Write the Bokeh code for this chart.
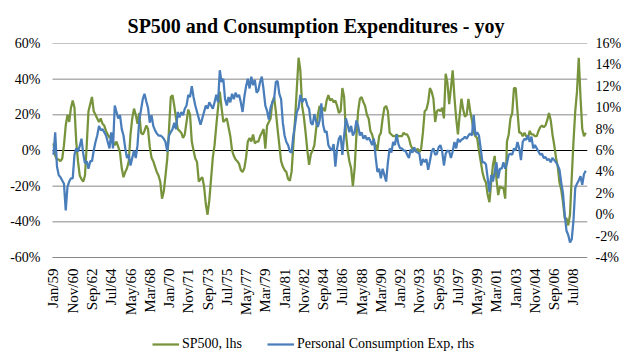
import math
from bokeh.plotting import figure
from bokeh.models import (Range1d, LinearAxis, FixedTicker, PrintfTickFormatter,
                          Legend, LegendItem)
from bokeh.core.properties import value
from bokeh.embed import file_html
from bokeh.resources import INLINE

title_text = "SP500 and Consumption Expenditures - yoy"
series_names = ["SP500, lhs", "Personal Consumption Exp, rhs"]

# month index from Jan 1959 (0), sampled every 2 months
months = list(range(0, 609, 2))

# x-axis category labels every 22 months
tick_months = [0, 22, 44, 66, 88, 110, 132, 154, 176, 198, 220, 242, 264, 286,
               308, 330, 352, 374, 396, 418, 440, 462, 484, 506, 528, 550, 572, 594]
tick_labels = ["Jan/59", "Nov/60", "Sep/62", "Jul/64", "May/66", "Mar/68", "Jan/70",
               "Nov/71", "Sep/73", "Jul/75", "May/77", "Mar/79", "Jan/81", "Nov/82",
               "Sep/84", "Jul/86", "May/88", "Mar/90", "Jan/92", "Nov/93", "Sep/95",
               "Jul/97", "May/99", "Mar/01", "Jan/03", "Nov/04", "Sep/06", "Jul/08"]

left_ticks = [-60, -40, -20, 0, 20, 40, 60]
right_ticks = [-4, -2, 0, 2, 4, 6, 8, 10, 12, 14, 16]

# SP500 yoy %, left axis
sp500 = [
    4, -3, -5, -5, -6, -4.5, 3, 14, 20, 16, 24, 28,
    24, 5, -6, -14, -16, -17.5, -14, 3, 22, 26, 30, 22,
    20, 18, 16, 18, 15, 14, 11, 9, 7, 9, 5, 3,
    5, 2, -1, -10, -15, -12, -10, -6, 9, 18, 23.5, 20,
    15, 21, 10, 9, 11, 14, 12, 2, -4, -6, -9, -12,
    -14, -17.5, -27, -23, -14, -4.5, 12, 30, 31, 25, 18, 12,
    11, 10, 7, 9, 16, 23, 20, 5, 0, -4.5, -6.5, -17.5,
    -16, -15, -20, -30, -36, -28, -16, -4, 3, 14, 24, 33,
    24, 16, 17, 18, 13, 8, 0, -3, -5, -6, -7.5, -11,
    -12, -10, -4, 5, 7, 5, 9, 4, 5, 5, 8, 10,
    12, 1, 14, 16, 18, 27, 30, 22, 12, 3, -6, -9,
    -11, -12, -16, -17, -12, 3, 18, 35, 52, 45, 25, 19,
    10, 0, -8, -2, 0, 3, 12, 20, 25, 22, 24, 22,
    28, 31, 28, 29, 27, 28, 25, 21, 22, 35, 30, 10,
    0, -6, -10, -20, -10, 8, 22, 29, 30, 27, 25, 20,
    18, 11, 9, 5, 3, 0, 8, 10, 18, 24, 25, 22,
    10, 9, 8, 8, 9, 8, 8, 8, 10, 9, 9, 7,
    3, 1, 0, 0, 1, -1, 1, 10, 22, 23, 27, 35,
    33, 29, 16, 22, 23, 22, 24, 18, 43, 38, 26, 35,
    45, 30, 18, 9, 20, 29, 23, 19, 20, 29, 22, 17,
    10, 8, 7, 0, -6, -12, -16, -18, -25, -29, -18, -8,
    -3, -16, -25, -20, -21, -21, -27, 5, 9, 18, 21, 35,
    35, 22, 10, 10, 8, 10, 8, 7, 11, 9, 9, 8,
    8, 11, 13, 14, 13, 14, 17, 21, 17, 9, 3, -4,
    -9, -18, -22, -29, -38, -38, -42, -36, -15, 5, 22, 33,
    52, 30, 12, 8, 10,
]

# Personal consumption expenditures yoy %, right axis
pce = [
    5.6, 7.7, 4.5, 3.7, 3.5, 3.2, 2.9, 0.4, 2.6, 3.1, 3.4, 3.4,
    5.6, 6.2, 5.9, 6.4, 7.1, 5.7, 4.8, 5.0, 4.3, 5.0, 5.0, 6.0,
    6.8, 7.4, 8.3, 7.9, 8.0, 7.7, 7.4, 6.8, 6.2, 7.7, 6.2, 10.2,
    9.6, 9.0, 9.3, 8.0, 7.4, 6.2, 5.3, 5.6, 4.6, 5.3, 6.0, 5.3,
    6.5, 8.8, 9.8, 10.8, 11.3, 10.6, 10.0, 8.6, 9.3, 8.3, 7.9, 7.6,
    7.4, 7.4, 7.3, 7.1, 6.8, 5.9, 7.4, 7.7, 8.0, 8.6, 8.0, 9.6,
    9.1, 9.6, 9.3, 9.9, 10.2, 11.2, 11.0, 12.0, 11.0, 10.2, 9.6, 9.0,
    8.4, 9.0, 9.6, 10.2, 9.9, 10.5, 10.2, 9.9, 10.5, 11.2, 10.5, 13.5,
    12.4, 12.7, 10.8, 10.2, 11.0, 10.5, 11.3, 10.8, 11.4, 11.0, 11.2, 10.5,
    9.6, 11.0, 12.0, 12.7, 11.8, 12.9, 12.1, 12.6, 11.4, 11.6, 12.4, 12.9,
    11.7, 10.2, 9.7, 8.9, 10.0, 10.5, 10.8, 12.4, 12.5, 11.3, 10.8, 8.6,
    7.4, 6.8, 6.5, 5.9, 5.8, 7.4, 8.4, 9.6, 10.0, 11.2, 10.5, 10.8,
    10.8, 10.2, 9.9, 8.6, 8.4, 9.4, 8.7, 8.2, 8.8, 10.4, 8.4, 7.7,
    7.8, 6.5, 6.2, 6.0, 6.6, 4.5, 6.2, 7.1, 7.4, 5.6, 7.4, 9.0,
    8.4, 7.7, 8.3, 7.4, 7.7, 8.8, 8.3, 7.4, 7.7, 7.1, 7.4, 7.0,
    7.2, 6.9, 6.5, 7.1, 5.4, 4.0, 4.3, 3.4, 4.3, 3.7, 3.1, 4.9,
    6.2, 5.8, 6.8, 6.5, 7.5, 6.6, 6.2, 6.2, 6.0, 6.0, 5.6, 5.3,
    6.1, 5.8, 6.3, 5.9, 5.8, 5.7, 4.6, 5.2, 4.9, 5.2, 4.2, 5.0,
    5.9, 6.2, 5.6, 5.7, 6.3, 6.5, 5.9, 4.6, 5.7, 6.0, 5.9, 5.3,
    5.9, 6.8, 6.2, 7.1, 6.8, 7.0, 7.1, 7.3, 7.1, 7.4, 7.6, 7.4,
    9.3, 7.4, 7.7, 7.4, 6.2, 4.9, 4.9, 4.7, 3.4, 2.1, 3.7, 3.1,
    4.0, 4.9, 3.4, 4.3, 4.3, 4.9, 4.3, 4.8, 5.6, 5.7, 5.6, 6.2,
    6.0, 6.8, 6.2, 5.1, 6.8, 7.1, 7.0, 7.4, 6.8, 7.3, 6.2, 6.5,
    6.2, 5.9, 5.6, 5.7, 5.3, 5.4, 5.1, 5.2, 4.9, 5.3, 5.1, 4.9,
    4.6, 4.2, 3.0, 2.0, 0.0, -1.5, -1.9, -2.6, -2.3, -0.5, 2.5, 2.9,
    3.2, 3.6, 2.8, 3.8, 4.1,
]

FONT = "Liberation Serif"
GREEN = "#77933C"
BLUE = "#4A7EBB"
GRID = "#888888"
TEXT = "#000000"

# layout geometry (pixels)
PLOT_W = 535            # width of the gridded plotting band
PAD_L = 8               # extra room on the left so the first category label is not clipped
FRAME_W = PLOT_W + PAD_L
PLOT_H = 214            # height of the -60%..60% plotting band
EXTRA_H = 103           # band below the plot holding the category labels + legend
FRAME_H = PLOT_H + EXTRA_H
X_LO, X_HI = -1.1, 610  # month extent of the gridded band
LEFT_MIN, LEFT_MAX = -60, 60
RIGHT_MIN, RIGHT_MAX = -4, 16
months_per_px = (X_HI - X_LO) / PLOT_W
left_per_px = (LEFT_MAX - LEFT_MIN) / PLOT_H
right_per_px = (RIGHT_MAX - RIGHT_MIN) / PLOT_H
label_gap_px = 11

p = figure(frame_width=FRAME_W, frame_height=FRAME_H, output_backend="svg",
           toolbar_location=None, x_axis_location=None,
           x_range=Range1d(X_LO - PAD_L * months_per_px, X_HI),
           y_range=Range1d(LEFT_MIN - EXTRA_H * left_per_px, LEFT_MAX),
           min_border_left=52 - PAD_L, min_border_right=47, min_border_top=43,
           min_border_bottom=4)
p.outline_line_color = None
p.background_fill_color = "white"
p.border_fill_color = "white"

p.title.text = title_text
p.title.align = "center"
p.title.text_font = FONT
p.title.text_font_size = "20px"
p.title.text_font_style = "bold"
p.title.text_color = TEXT
p.title.standoff = 13
p.title.offset = PAD_L / 2

p.extra_y_ranges = {"right": Range1d(RIGHT_MIN - EXTRA_H * right_per_px, RIGHT_MAX)}

# horizontal gridlines over the plotting band only
p.xgrid.visible = False
p.ygrid.visible = False
grid_vals = [v for v in left_ticks if v != 0]
p.segment(x0=[X_LO] * len(grid_vals), y0=grid_vals, x1=[X_HI] * len(grid_vals),
          y1=grid_vals, line_color=GRID, line_width=1)
# category axis line crossing at 0
p.segment(x0=[X_LO], y0=[0], x1=[X_HI], y1=[0], line_color="black", line_width=1)


def style_axis(ax, standoff):
    ax.axis_line_color = None
    ax.major_tick_line_color = None
    ax.minor_tick_line_color = None
    ax.major_tick_out = 0
    ax.major_tick_in = 0
    ax.minor_tick_out = 0
    ax.minor_tick_in = 0
    ax.major_label_standoff = standoff
    ax.major_label_text_font = FONT
    ax.major_label_text_font_size = "14px"
    ax.major_label_text_color = TEXT


# left axis
ya = p.yaxis[0]
ya.ticker = FixedTicker(ticks=left_ticks)
ya.formatter = PrintfTickFormatter(format="%d%%")
style_axis(ya, 12 - PAD_L)

# right axis
ra = LinearAxis(y_range_name="right", ticker=FixedTicker(ticks=right_ticks),
                formatter=PrintfTickFormatter(format="%d%%"))
style_axis(ra, 8)
p.add_layout(ra, "right")

# category labels under the plot, rotated
label_y = LEFT_MIN - label_gap_px * left_per_px
p.text(x=tick_months, y=[label_y] * len(tick_months), text=tick_labels,
       angle=math.pi / 2, text_align="right", text_baseline="middle",
       text_font=value(FONT), text_font_size="15px", text_color=TEXT)

r1 = p.line(months, sp500, line_color=GREEN, line_width=2.25)
r2 = p.line(months, pce, line_color=BLUE, line_width=2.25, y_range_name="right")

legend = Legend(items=[LegendItem(label=series_names[0], renderers=[r1]),
                       LegendItem(label=series_names[1], renderers=[r2])],
                orientation="horizontal", location=(100 + PAD_L, 8),
                border_line_color=None, background_fill_alpha=0,
                label_text_font=FONT, label_text_font_size="14px",
                label_text_color=TEXT, glyph_width=27, glyph_height=16,
                label_standoff=3, spacing=25, padding=0, margin=0,
                label_height=16)
p.add_layout(legend, "center")

open("out.html", "w").write(file_html(p, INLINE))
